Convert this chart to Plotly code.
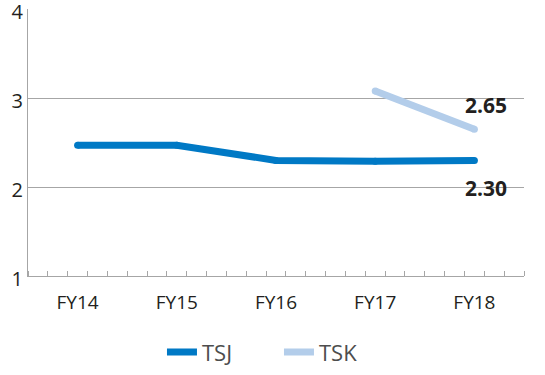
import plotly.graph_objects as go

categories = ["FY14", "FY15", "FY16", "FY17", "FY18"]
tsj = [2.47, 2.47, 2.30, 2.29, 2.30]
tsk = [None, None, None, 3.08, 2.65]
y_ticks = [1, 2, 3, 4]

x = list(range(len(categories)))
c_tsj = "#0079c5"
c_tsk = "#b3cdea"
font = "Open Sans, Noto Sans, sans-serif"

fig = go.Figure()
for name, vals, col in [("TSJ", tsj, c_tsj), ("TSK", tsk, c_tsk)]:
    fig.add_trace(go.Scatter(x=x, y=vals, name=name, mode="lines",
                             line=dict(color=col, width=7), connectgaps=False))
    fig.add_trace(go.Scatter(x=x, y=vals, mode="markers", showlegend=False,
                             marker=dict(color=col, size=7), hoverinfo="skip"))

fig.add_annotation(x=4, y=tsk[4], text="<b>%.2f</b>" % tsk[4], showarrow=False,
                   xshift=12, yshift=24, font=dict(size=21, color="#231f20", family=font))
fig.add_annotation(x=4, y=tsj[4], text="<b>%.2f</b>" % tsj[4], showarrow=False,
                   xshift=12, yshift=-28, font=dict(size=21, color="#231f20", family=font))

fig.update_layout(
    width=545, height=375,
    margin=dict(l=28, r=21, t=9, b=99),
    plot_bgcolor="white", paper_bgcolor="white",
    font=dict(family=font, color="#231f20"),
    showlegend=True,
    legend=dict(orientation="h", x=0.506, xanchor="center",
                yref="container", y=0.061, yanchor="middle",
                font=dict(size=22, color="#4d4d4d"), entrywidth=72, entrywidthmode="pixels",
                tracegroupgap=0),
    xaxis=dict(range=[-0.5, 4.5], tickvals=x, ticktext=categories, ticks="",
               automargin=False, ticklabelstandoff=9,
               showgrid=False, zeroline=False, showline=True, linecolor="#a6a6a6", linewidth=1,
               tickfont=dict(size=19, color="#231f20"),
               minor=dict(tick0=-0.5, dtick=0.2, ticks="inside", ticklen=5,
                          tickcolor="#a6a6a6", showgrid=False)),
    yaxis=dict(range=[1, 4.003], tickvals=y_ticks, showgrid=True, gridcolor="#a6a6a6", gridwidth=1,
               automargin=False, ticklabeloverflow="allow", ticklabelshift=3,
               zeroline=False, showline=True, linecolor="#a6a6a6", linewidth=1,
               tickfont=dict(size=20, color="#231f20"), ticks="", ticklen=0),
)

fig.write_html("out.html", config={"displayModeBar": False},
               post_script="document.body.style.margin='0';")
